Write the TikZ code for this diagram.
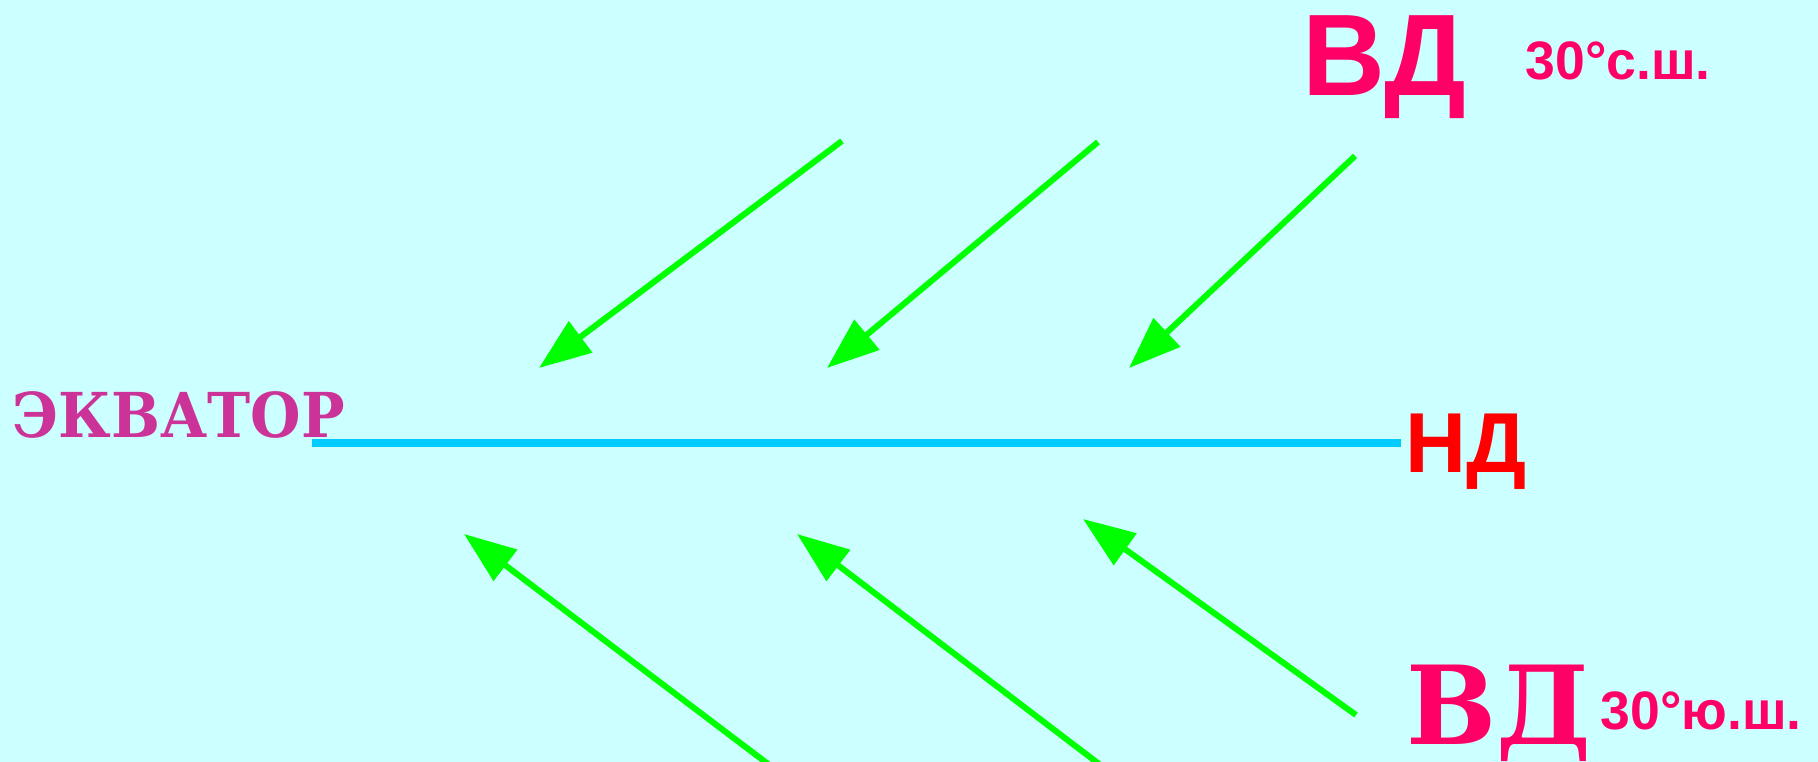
\documentclass[tikz,border=0pt]{standalone}
\usepackage{graphicx}
\usepackage{fontspec}
\newfontfamily\windsans{Liberation Sans}
\newfontfamily\windserif{DejaVu Serif}
\usetikzlibrary{arrows.meta}
\definecolor{seabg}{HTML}{CCFFFF}
\definecolor{windgreen}{HTML}{00FF00}
\definecolor{eqblue}{HTML}{00CCFF}
\definecolor{vdpink}{HTML}{FF0066}
\definecolor{ndred}{HTML}{FF0000}
\definecolor{eqpurple}{HTML}{CC3399}
\newcommand\fitwide[2]{\resizebox{#1}{\height}{#2}}

\begin{document}
\begin{tikzpicture}[x=0.01cm, y=-0.01cm,
    >={Triangle[length=0.52cm, width=0.38cm]},
    wind/.style={->, draw=windgreen, line width=0.06cm},
    lbl/.style={inner sep=0pt, anchor=base west}]
    \fill[seabg] (0,0) rectangle (1818,762);
    \useasboundingbox (0,0) rectangle (1818,762);

    % labels
    \node[lbl, text=eqpurple, font=\windserif\bfseries\fontsize{17.6pt}{17.6pt}\selectfont] (eqlabel) at (12,438) {\fitwide{3.32cm}{ЭКВАТОР}};
    \node[lbl, text=ndred, font=\windsans\bfseries\fontsize{24.2pt}{24.2pt}\selectfont] (nd) at (1405,473) {\fitwide{1.21cm}{НД}};
    \node[lbl, text=vdpink, font=\windsans\bfseries\fontsize{33pt}{33pt}\selectfont] (vdnorth) at (1302,96) {\fitwide{1.63cm}{ВД}};
    \node[lbl, text=vdpink, font=\windsans\bfseries\fontsize{15.4pt}{15.4pt}\selectfont] (latnorth) at (1525,80) {\fitwide{1.85cm}{30°с.ш.}};
    \node[lbl, text=vdpink, font=\windserif\bfseries\fontsize{31pt}{31pt}\selectfont] (vdsouth) at (1406,745) {\fitwide{1.85cm}{ВД}};
    \node[lbl, text=vdpink, font=\windsans\bfseries\fontsize{15.4pt}{15.4pt}\selectfont] (latsouth) at (1600,730) {\fitwide{2.01cm}{30°ю.ш.}};

    % equator
    \coordinate (eqw) at (312,443.5);
    \coordinate (eqe) at (1401,443.5);
    \draw[eqblue, line width=0.08cm] (eqw) -- (eqe);

    % northern trade winds
    \coordinate (na1) at (842,141);  \coordinate (nb1) at (539,368);
    \coordinate (na2) at (1098,142); \coordinate (nb2) at (827,368);
    \coordinate (na3) at (1355,156); \coordinate (nb3) at (1129,368);
    \draw[wind] (na1) -- (nb1);
    \draw[wind] (na2) -- (nb2);
    \draw[wind] (na3) -- (nb3);

    % southern trade winds
    \coordinate (sa1) at (768,764);  \coordinate (sb1) at (464,534);
    \coordinate (sa2) at (1099,764); \coordinate (sb2) at (797,534);
    \coordinate (sa3) at (1356,715); \coordinate (sb3) at (1083,519);
    \draw[wind] (sa1) -- (sb1);
    \draw[wind] (sa2) -- (sb2);
    \draw[wind] (sa3) -- (sb3);
\end{tikzpicture}
\end{document}
